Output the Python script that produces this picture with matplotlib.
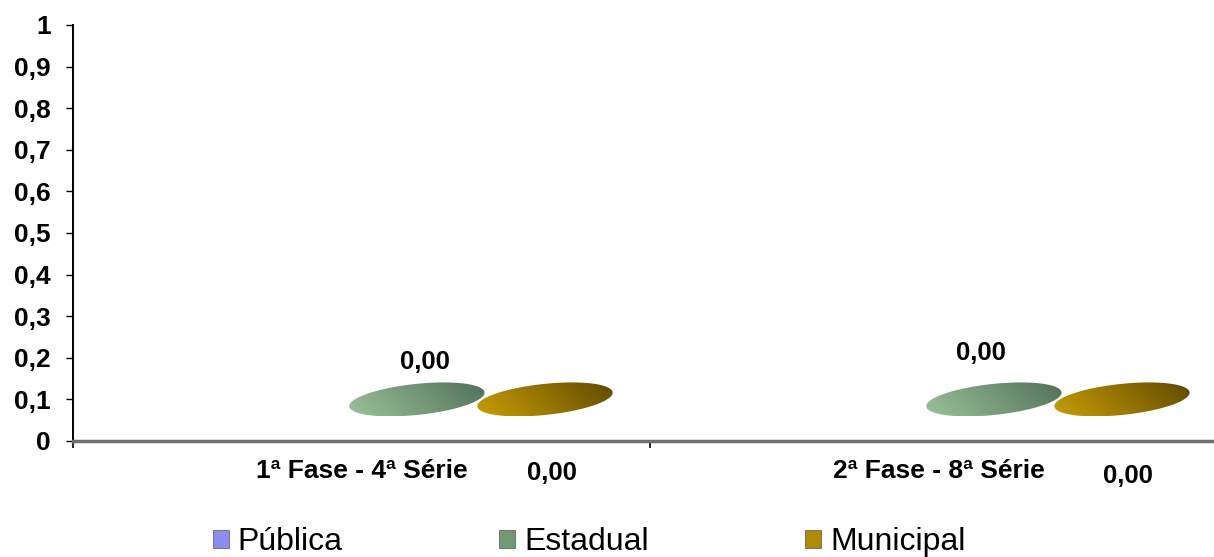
import numpy as np
import matplotlib
matplotlib.use("Agg")
import matplotlib.pyplot as plt
from matplotlib.patches import Polygon, Patch
from matplotlib.ticker import FuncFormatter, FixedLocator

plt.rcParams['font.family'] = ['Liberation Sans', 'DejaVu Sans']

# ---- data ----
categories = ["1ª Fase - 4ª Série", "2ª Fase - 8ª Série"]
series_names = ["Pública", "Estadual", "Municipal"]
publica = [None, None]
estadual = [0.0, 0.0]
municipal = [0.0, 0.0]
estadual_labels = ["0,00", "0,00"]
municipal_labels = ["0,00", "0,00"]
y_max = 1.0
y_step = 0.1

# ---- style ----
slot_pos = [0.374, 0.596, 0.818]          # position of each series within a category
floor_depth = 0.1                          # 3D floor offset of the bar tops
ell_a_px, ell_b_px, ell_angle = 68, 15.5, 6
col_light = {"Estadual": (0.60, 0.76, 0.60), "Municipal": (0.78, 0.62, 0.02)}
col_dark = {"Estadual": (0.32, 0.44, 0.35), "Municipal": (0.38, 0.29, 0.00)}
legend_cols = {"Pública": "#8c8cf0", "Estadual": "#6f9a74", "Municipal": "#b08a00"}
est_label_off = [(6, 57), (-9, 63)]        # points
mun_label_off = [(5, -23), (4, -25)]

W, H = 1214, 557
fig = plt.figure(figsize=(W / 100, H / 100), dpi=100)
ax_left, ax_bottom = 73 / W, 116 / H
ax_w, ax_h = (1227 - 73) / W, 416 / H
ax = fig.add_axes([ax_left, ax_bottom, ax_w, ax_h])
ax.set_xlim(0, len(categories))
ax.set_ylim(0, y_max)

px_per_x = ax_w * W / len(categories)
px_per_y = ax_h * H / y_max


def draw_ellipse(xc, yc, name):
    t = np.linspace(0, 2 * np.pi, 200)
    th = np.deg2rad(ell_angle)
    ex = ell_a_px * np.cos(t)
    ey = ell_b_px * np.sin(t)
    rx = ex * np.cos(th) - ey * np.sin(th)
    ry = ex * np.sin(th) + ey * np.cos(th)
    pts = np.column_stack([xc + rx / px_per_x, yc + ry / px_per_y])
    poly = Polygon(pts, closed=True, facecolor='none', edgecolor='none', zorder=3)
    ax.add_patch(poly)
    # diagonal gradient
    n = 64
    gx, gy = np.meshgrid(np.linspace(0, 1, n), np.linspace(0, 1, n))
    g = np.clip(0.8 * gx + 0.2 * (1 - gy), 0, 1)
    c0 = np.array(col_light[name]); c1 = np.array(col_dark[name])
    img = c0[None, None, :] * (1 - g[..., None]) + c1[None, None, :] * g[..., None]
    xmin, xmax = pts[:, 0].min(), pts[:, 0].max()
    ymin, ymax = pts[:, 1].min(), pts[:, 1].max()
    im = ax.imshow(img, extent=[xmin, xmax, ymin, ymax], origin='upper',
                   aspect='auto', zorder=3, interpolation='bilinear')
    im.set_clip_path(poly)


for i, cat in enumerate(categories):
    for j, (name, vals) in enumerate(zip(series_names, [publica, estadual, municipal])):
        v = vals[i]
        if v is None:
            continue
        draw_ellipse(i + slot_pos[j], v + floor_depth, name)
    ax.annotate(estadual_labels[i], xy=(i + slot_pos[1], estadual[i]),
                xytext=est_label_off[i], textcoords='offset points',
                ha='center', va='center', fontsize=18.5, fontweight='bold',
                annotation_clip=False)
    ax.annotate(municipal_labels[i], xy=(i + slot_pos[2], municipal[i]),
                xytext=mun_label_off[i], textcoords='offset points',
                ha='center', va='center', fontsize=18.5, fontweight='bold',
                annotation_clip=False)

ax.set_xlim(0, len(categories))
ax.set_ylim(0, y_max)

# axes styling
for s in ['top', 'right']:
    ax.spines[s].set_visible(False)
ax.spines['left'].set_color('black')
ax.spines['left'].set_linewidth(1.4)
ax.spines['bottom'].set_color('#6e6e6e')
ax.spines['bottom'].set_linewidth(2.5)

yt = np.round(np.arange(0, y_max + y_step / 2, y_step), 1)
ax.set_yticks(yt)
ax.yaxis.set_major_formatter(FuncFormatter(lambda v, p: ('%g' % v).replace('.', ',')))
ax.tick_params(axis='y', direction='out', length=5, width=1, pad=11,
               labelsize=19)
for lab in ax.get_yticklabels():
    lab.set_fontweight('bold')

ax.xaxis.set_major_locator(FixedLocator(np.arange(0, len(categories) + 1)))
ax.xaxis.set_minor_locator(FixedLocator(np.arange(len(categories)) + 0.5))
ax.set_xticklabels([], minor=False)
ax.set_xticklabels(categories, minor=True, fontsize=19, fontweight='bold')
ax.tick_params(axis='x', which='major', direction='out', length=5, width=1.2)
ax.tick_params(axis='x', which='minor', length=0, pad=13)

# legend
handles = [Patch(facecolor=legend_cols[n], edgecolor='#555555', linewidth=0.5, label=n)
           for n in series_names]
fig.legend(handles=handles, loc='center', bbox_to_anchor=(589 / W, 1 - 542 / H),
           ncol=3, frameon=False, fontsize=23, handlelength=0.5, handleheight=0.5,
           handletextpad=0.28, columnspacing=4.9, borderaxespad=0, borderpad=0)

fig.savefig("out.png", dpi=100)
